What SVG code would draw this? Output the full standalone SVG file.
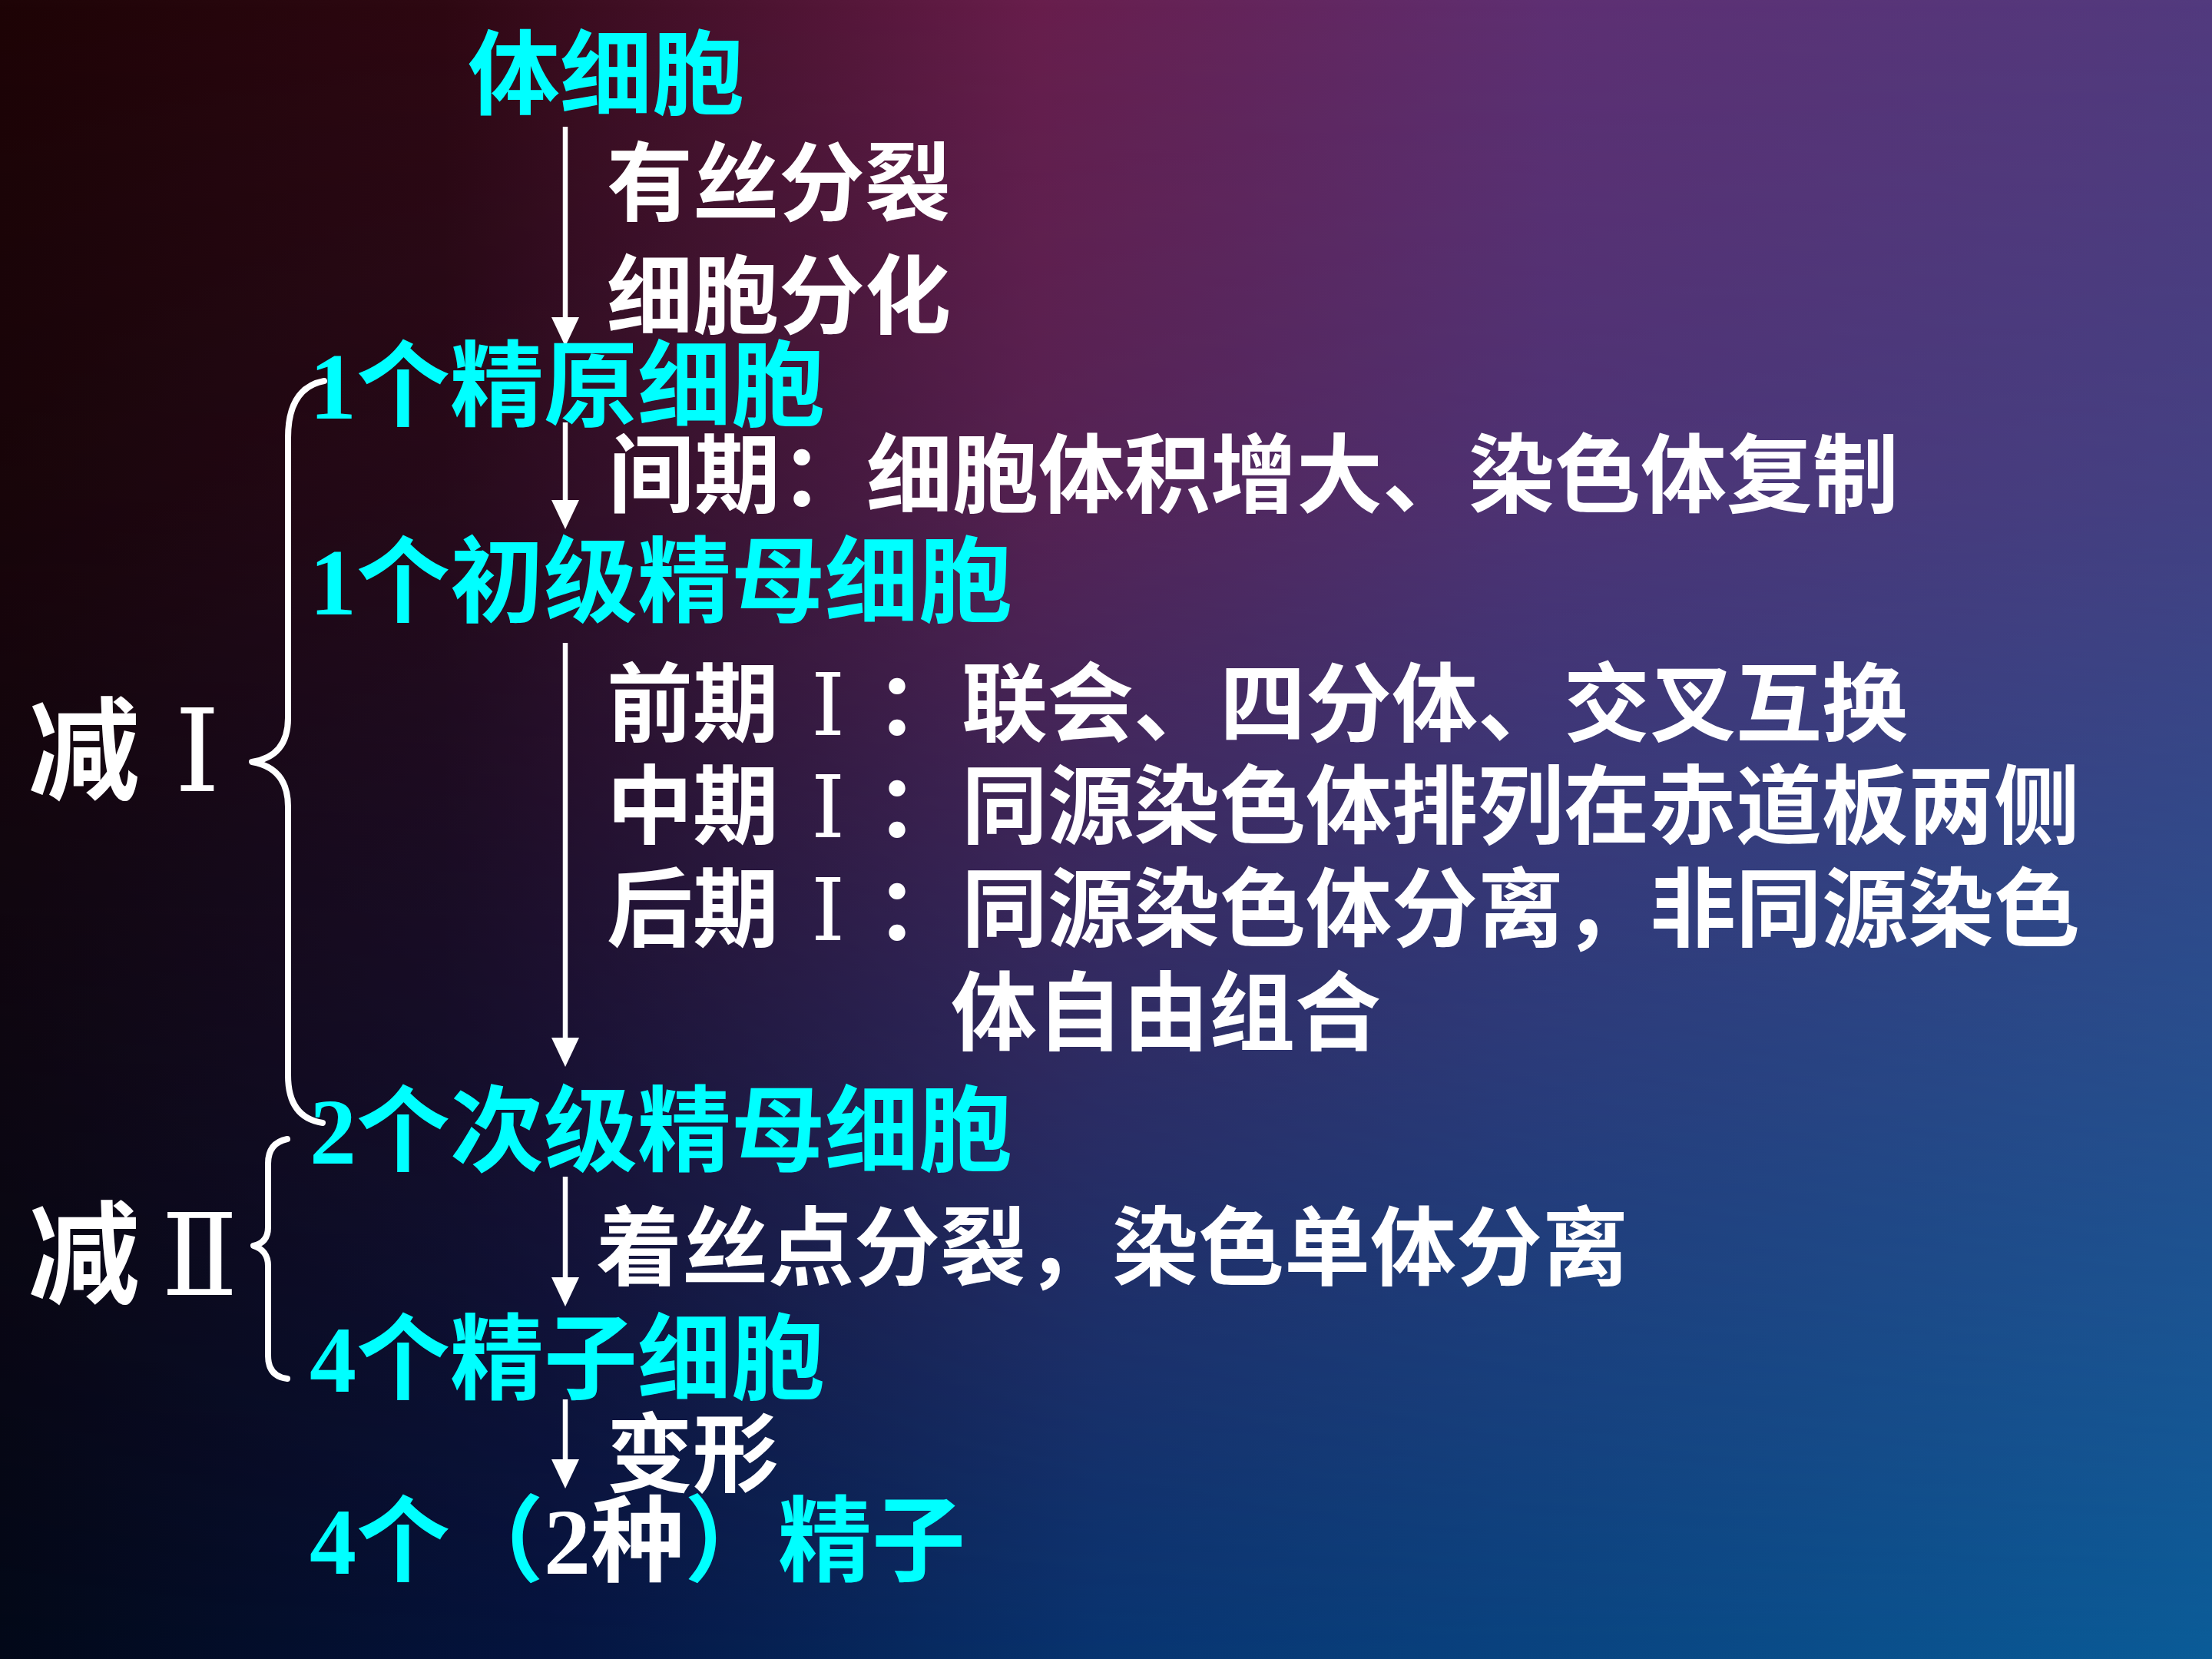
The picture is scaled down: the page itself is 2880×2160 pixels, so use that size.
<svg xmlns="http://www.w3.org/2000/svg" width="2880" height="2160" viewBox="0 0 2880 2160">
<defs>
<style>
.cy{font-family:"Noto Sans CJK SC",sans-serif;font-weight:700;font-size:122px;fill:#00ffff}
.wt{font-family:"Noto Sans CJK SC",sans-serif;font-weight:700;font-size:112px;fill:#ffffff}
.big{font-family:"Noto Sans CJK SC",sans-serif;font-weight:700;font-size:145px;fill:#ffffff}
.num{font-family:"Liberation Serif",serif;font-weight:700}
.rn{font-family:"DejaVu Serif","Liberation Serif",serif;font-weight:400}
.bigrn{font-family:"DejaVu Serif","Liberation Serif",serif;font-weight:400;fill:#ffffff}
.arr{stroke:#ffffff;stroke-width:6.5;fill:none;marker-end:url(#ah)}
.brace{stroke:#ffffff;stroke-width:8;fill:none;stroke-linecap:round;stroke-linejoin:round}
</style>
<marker id="ah" markerUnits="userSpaceOnUse" markerWidth="38" markerHeight="36" viewBox="0 0 38 36" refX="16" refY="18" orient="auto">
<path d="M0,0 L38,18 L0,36 z" fill="#ffffff"/>
</marker>
<linearGradient id="gt" x1="0" y1="0" x2="1" y2="0">
<stop offset="0" stop-color="#1e0406"/>
<stop offset="0.2" stop-color="#2e0812"/>
<stop offset="0.47" stop-color="#681e4c"/>
<stop offset="0.7" stop-color="#5e2f72"/>
<stop offset="1" stop-color="#523a7e"/>
</linearGradient>
<linearGradient id="gb" x1="0" y1="0" x2="1" y2="0">
<stop offset="0" stop-color="#020818"/>
<stop offset="0.25" stop-color="#041440"/>
<stop offset="0.5" stop-color="#073470"/>
<stop offset="1" stop-color="#0a5c98"/>
</linearGradient>
<linearGradient id="gv" x1="0" y1="0" x2="0" y2="1">
<stop offset="0" stop-color="#000000"/>
<stop offset="0.3" stop-color="#333333"/>
<stop offset="0.55" stop-color="#808080"/>
<stop offset="1" stop-color="#ffffff"/>
</linearGradient>
<mask id="mv" maskUnits="userSpaceOnUse" x="0" y="0" width="2880" height="2160">
<rect x="0" y="0" width="2880" height="2160" fill="url(#gv)"/>
</mask>
</defs>
<g id="background">
<rect x="0" y="0" width="2880" height="2160" fill="url(#gt)"/>
<rect x="0" y="0" width="2880" height="2160" fill="url(#gb)" mask="url(#mv)"/>
</g>
<g id="connectors">
<line class="arr" x1="736" y1="165" x2="736" y2="429"/>
<line class="arr" x1="736" y1="550" x2="736" y2="667"/>
<line class="arr" x1="736" y1="837" x2="736" y2="1367"/>
<line class="arr" x1="736" y1="1532" x2="736" y2="1679"/>
<line class="arr" x1="736" y1="1822" x2="736" y2="1916"/>
<path class="brace" d="M422 496 Q375 505 375 570 L375 935 Q375 985 328 992 Q375 1000 375 1050 L375 1400 Q375 1455 420 1462"/>
<path class="brace" d="M374 1483 Q349 1488 349 1515 L349 1598 Q349 1618 330 1622 Q349 1628 349 1648 L349 1765 Q349 1792 374 1795"/>
</g>
<g id="node-somatic"><text class="cy" x="609" y="140" style="font-size:120px">体细胞</text></g>
<g id="label-mitosis">
<text class="wt" x="790" y="279">有丝分裂</text>
<text class="wt" x="790" y="426">细胞分化</text>
</g>
<g id="node-spermatogonium"><text class="cy" x="403" y="545"><tspan class="num">1</tspan>个精原细胞</text></g>
<g id="label-interphase"><text class="wt" x="792" y="659">间期：细胞体积增大、染色体复制</text></g>
<g id="node-primary"><text class="cy" x="403" y="800"><tspan class="num">1</tspan>个初级精母细胞</text></g>
<g id="label-meiosis1">
<text class="wt" y="957"><tspan x="790">前期</tspan><tspan class="rn" x="1078" text-anchor="middle">Ⅰ</tspan><tspan x="1140">：联会、四分体、交叉互换</tspan></text>
<text class="wt" y="1090"><tspan x="790">中期</tspan><tspan class="rn" x="1078" text-anchor="middle">Ⅰ</tspan><tspan x="1140">：同源染色体排列在赤道板两侧</tspan></text>
<text class="wt" y="1224"><tspan x="790">后期</tspan><tspan class="rn" x="1078" text-anchor="middle">Ⅰ</tspan><tspan x="1140">：同源染色体分离，非同源染色</tspan></text>
<text class="wt" x="1238" y="1359">体自由组合</text>
</g>
<g id="node-secondary"><text class="cy" x="403" y="1515"><tspan class="num">2</tspan>个次级精母细胞</text></g>
<g id="label-meiosis2"><text class="wt" x="776" y="1665">着丝点分裂，染色单体分离</text></g>
<g id="node-spermatid"><text class="cy" x="403" y="1812"><tspan class="num">4</tspan>个精子细胞</text></g>
<g id="label-transform"><text class="wt" x="790" y="1934">变形</text></g>
<g id="node-sperm"><text class="cy" x="403" y="2049"><tspan class="num">4</tspan>个（<tspan class="num" style="fill:#ffffff">2</tspan><tspan style="fill:#ffffff">种</tspan>）精子</text></g>
<g id="label-M1">
<text class="big" x="37" y="1030">减</text>
<text class="bigrn" x="257" y="1030" text-anchor="middle" font-size="150">Ⅰ</text>
</g>
<g id="label-M2">
<text class="big" x="37" y="1686">减</text>
<text class="bigrn" x="260" y="1686" text-anchor="middle" font-size="147">Ⅱ</text>
</g>
</svg>
